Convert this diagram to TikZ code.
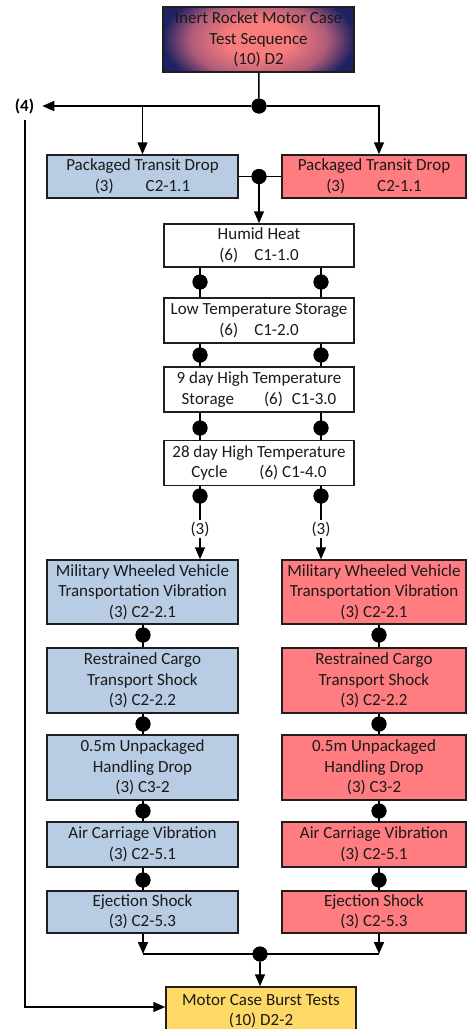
\documentclass[tikz,border=0pt]{standalone}
\usepackage{fontspec}
\setmainfont{Carlito}
\usetikzlibrary{arrows.meta,calc}

\definecolor{boxline}{HTML}{1E1E1E}
\definecolor{txt}{HTML}{1A1A1A}
\definecolor{blueA}{HTML}{B8CCE4}
\definecolor{redA}{HTML}{FF7C80}
\definecolor{yellowA}{HTML}{FFD966}
\definecolor{rkpink}{HTML}{F87C7C}
\definecolor{rkmid}{HTML}{B05C78}
\definecolor{rknavy}{HTML}{1F2262}

% the path's bounding box spans the inner 25bp radius of the shading
\pgfdeclareradialshading{rocketglow}{\pgfpoint{0bp}{0bp}}{%
  color(0bp)=(rkpink); color(8bp)=(rkpink); color(17bp)=(rkmid); color(24bp)=(rknavy); color(50bp)=(rknavy)}

\tikzset{
  box/.style={draw=boxline, line width=1.5pt, align=center, inner xsep=2pt,
    inner ysep=0pt, text=txt, font=\fontsize{17}{20.5}\selectfont},
  bluebox/.style={box, fill=blueA, minimum width=191pt},
  redbox/.style={box, fill=redA, minimum width=184pt},
  midbox/.style={box, fill=white, minimum width=190pt},
  dot/.style={circle, fill=black, inner sep=0pt, minimum size=15pt},
  conn/.style={line width=1.5pt, draw=black},
  arr/.style={conn, -{Triangle[length=12pt,width=10pt]}},
  lbl/.style={fill=white, inner sep=1pt, text=txt, font=\fontsize{17}{20.5}\selectfont}
}

\begin{document}
\begin{tikzpicture}[x=1pt, y=-1pt]
\useasboundingbox (0,0) rectangle (467,1029);

% column guides
\coordinate (cL) at (200,0);
\coordinate (cR) at (321,0);
\coordinate (cBR) at (379,0);

% start of the sequence
\node[box, minimum width=191pt, minimum height=65pt,
  path picture={
    \fill[rknavy] (path picture bounding box.south west) rectangle (path picture bounding box.north east);
    \shade[shading=rocketglow] (path picture bounding box.center) ellipse (100pt and 56pt);
  }] (top) at (258.5,39.5) {Inert Rocket Motor Case\\Test Sequence\\(10) D2};

\node[dot] (jtop) at (259,106) {};
\node[inner sep=0pt, text=black, font=\fontsize{17}{20.5}\selectfont\bfseries] (lab4) at (24.5,106) {(4)};

% packaged transit drop
\node[bluebox, minimum height=43pt] (ptdL) at (142.5,176.5) {Packaged Transit Drop\\(3)\hspace{32pt}C2-1.1};
\node[redbox, minimum height=43pt] (ptdR) at (374,176.5) {Packaged Transit Drop\\(3)\hspace{32pt}C2-1.1};
\node[dot] (jptd) at (259,176.5) {};

% climatic conditioning
\node[midbox, minimum height=43pt] (hh) at (259,245.5) {Humid Heat\\(6)\hspace{16pt}C1-1.0};
\node[midbox, minimum height=45pt] (lt) at (259,320.5) {Low Temperature Storage\\(6)\hspace{16pt}C1-2.0};
\node[midbox, minimum height=45pt] (d9) at (259,389.5) {9 day High Temperature\\Storage\hspace{30pt}(6)\hspace{9pt}C1-3.0};
\node[midbox, minimum height=45pt] (d28) at (259,463) {28 day High Temperature\\Cycle\hspace{32pt}(6) C1-4.0};

\node[dot] (a1) at (200,282) {};
\node[dot] (b1) at (321,282) {};
\node[dot] (a2) at (200,355) {};
\node[dot] (b2) at (321,355) {};
\node[dot] (a3) at (200,428) {};
\node[dot] (b3) at (321,428) {};
\node[dot] (a4) at (200,496) {};
\node[dot] (b4) at (321,496) {};
\node[lbl] (n3L) at (200,529) {(3)};
\node[lbl] (n3R) at (321,529) {(3)};

% left mechanical column
\node[bluebox, minimum height=64pt] (mwL) at (142.5,592) {Military Wheeled Vehicle\\Transportation Vibration\\(3) C2-2.1};
\node[bluebox, minimum height=65pt] (rcL) at (142.5,680.5) {Restrained Cargo\\Transport Shock\\(3) C2-2.2};
\node[bluebox, minimum height=65pt] (udL) at (142.5,767.5) {0.5m Unpackaged\\Handling Drop\\(3) C3-2};
\node[bluebox, minimum height=45pt] (acL) at (142.5,844.5) {Air Carriage Vibration\\(3) C2-5.1};
\node[bluebox, minimum height=42pt] (ejL) at (142.5,912) {Ejection Shock\\(3) C2-5.3};

% right mechanical column
\node[redbox, minimum height=64pt] (mwR) at (374,592) {Military Wheeled Vehicle\\Transportation Vibration\\(3) C2-2.1};
\node[redbox, minimum height=65pt] (rcR) at (374,680.5) {Restrained Cargo\\Transport Shock\\(3) C2-2.2};
\node[redbox, minimum height=65pt] (udR) at (374,767.5) {0.5m Unpackaged\\Handling Drop\\(3) C3-2};
\node[redbox, minimum height=45pt] (acR) at (374,844.5) {Air Carriage Vibration\\(3) C2-5.1};
\node[redbox, minimum height=42pt] (ejR) at (374,912) {Ejection Shock\\(3) C2-5.3};

\node[dot] (l1) at (143,635) {};
\node[dot] (l2) at (143,724) {};
\node[dot] (l3) at (143,811) {};
\node[dot] (l4) at (143,880) {};
\node[dot] (r1) at (379,635) {};
\node[dot] (r2) at (379,724) {};
\node[dot] (r3) at (379,811) {};
\node[dot] (r4) at (379,880) {};

% burst test
\node[box, fill=yellowA, minimum width=190pt, minimum height=48pt] (mc) at (261,1011) {Motor Case Burst Tests\\(10) D2-2};
\node[dot] (jbot) at (260,954) {};
\coordinate (drop4) at (25,120);

% connectors: top split
\draw[conn] (top) -- (jtop);
\draw[arr] (jtop) -- ([xshift=8pt]lab4.east);
\draw[arr] (jtop -| ptdL.north) -- (ptdL.north);
\draw[arr] (jtop) -| (cBR |- ptdR.north);
\draw[conn] (ptdL.east) -- (ptdR.west);
\draw[arr] (jptd) -- (hh.north);

% climatic chain
\draw[conn] (hh.south -| cL) -- (lt.north -| cL);
\draw[conn] (hh.south -| cR) -- (lt.north -| cR);
\draw[conn] (lt.south -| cL) -- (d9.north -| cL);
\draw[conn] (lt.south -| cR) -- (d9.north -| cR);
\draw[conn] (d9.south -| cL) -- (d28.north -| cL);
\draw[conn] (d9.south -| cR) -- (d28.north -| cR);
\draw[conn] (d28.south -| cL) -- (n3L.north);
\draw[conn] (d28.south -| cR) -- (n3R.north);
\draw[arr] (n3L.south) -- (mwL.north -| cL);
\draw[arr] (n3R.south) -- (mwR.north -| cR);

% mechanical chains
\draw[conn] (mwL.south -| l1) -- (rcL.north -| l1);
\draw[conn] (rcL.south -| l2) -- (udL.north -| l2);
\draw[conn] (udL.south -| l3) -- (acL.north -| l3);
\draw[conn] (acL.south -| l4) -- (ejL.north -| l4);
\draw[conn] (mwR.south -| r1) -- (rcR.north -| r1);
\draw[conn] (rcR.south -| r2) -- (udR.north -| r2);
\draw[conn] (udR.south -| r3) -- (acR.north -| r3);
\draw[conn] (acR.south -| r4) -- (ejR.north -| r4);

% merge into burst test
\draw[arr] (ejL.south -| l4) -- (l4 |- jbot);
\draw[arr] (ejR.south -| r4) -- (r4 |- jbot);
\draw[conn] (l4 |- jbot) -- (r4 |- jbot);
\draw[arr] (jbot) -- (mc.north -| jbot);
\draw[arr] (drop4) |- ([yshift=4pt]mc.west);

% dots over the lines
\foreach \d in {jtop,jptd,a1,b1,a2,b2,a3,b3,a4,b4,l1,l2,l3,l4,r1,r2,r3,r4,jbot}
  \fill[black] (\d) circle (7.5pt);
\end{tikzpicture}
\end{document}
